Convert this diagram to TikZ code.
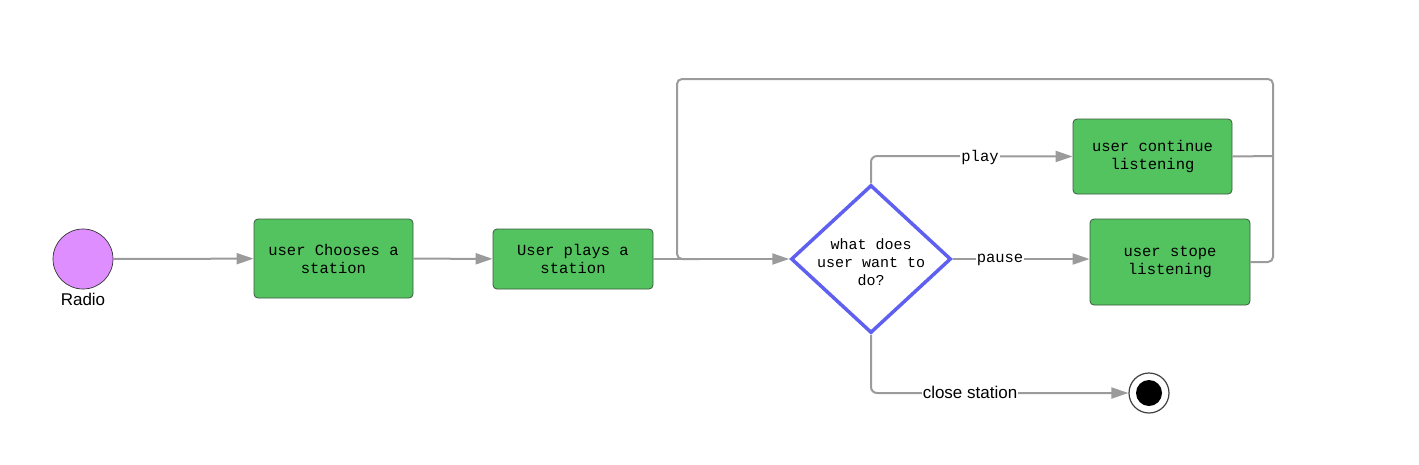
\documentclass[tikz,border=0pt]{standalone}
\usepackage{fontspec}
\setmainfont{Liberation Sans}
\newfontfamily\monof{Liberation Mono}
\usetikzlibrary{arrows.meta,shapes.geometric}
\definecolor{boxgreen}{RGB}{83,195,95}
\definecolor{boxedge}{RGB}{60,90,62}
\definecolor{conngray}{RGB}{155,155,155}
\definecolor{decblue}{RGB}{96,96,240}
\definecolor{startpink}{RGB}{222,142,255}
\tikzset{
  stepbox/.style={draw=boxedge, line width=0.8pt, fill=boxgreen, rounded corners=4pt, inner sep=0pt, align=center, font=\monof\fontsize{15.5}{18}\selectfont},
  conn/.style={draw=conngray, line width=2pt, -{Triangle[length=17pt,width=11pt]}},
  plainconn/.style={draw=conngray, line width=2pt},
  monolabel/.style={fill=white, inner sep=1pt, font=\monof\fontsize{15.5}{18}\selectfont},
  sanslabel/.style={fill=white, inner sep=1pt, font=\fontsize{17}{20}\selectfont},
}
\begin{document}
\begin{tikzpicture}[x=1pt,y=-1pt]
\useasboundingbox (0,0) rectangle (1419,464);
% nodes
\node[circle, draw=black!80, line width=0.7pt, fill=startpink, minimum size=60pt, inner sep=0pt] (radio) at (83,259) {};
\node[font=\fontsize{17}{20}\selectfont] (radiolbl) at (83,299) {Radio};
\node[stepbox, minimum width=159pt, minimum height=79pt] (b1) at (333.5,258.5) {user Chooses a\\station};
\node[stepbox, minimum width=160pt, minimum height=60pt] (b2) at (573,259) {User plays a\\station};
\node[diamond, draw=decblue, line width=3.5pt, fill=white, minimum width=160pt, minimum height=148pt, inner sep=0pt] (d) at (871,259) {};
\node[align=center, font=\monof\fontsize{15}{18}\selectfont] (dtext) at (871,262) {what does\\user want to\\do?};
\node[stepbox, minimum width=159pt, minimum height=75pt] (b3) at (1152.5,156.5) {user continue\\listening};
\node[stepbox, minimum width=160pt, minimum height=86pt] (b4) at (1170,262) {user stope\\listening};
\node[circle, draw=black!75, line width=1.2pt, fill=white, minimum size=40pt, inner sep=0pt] (endo) at (1149,393) {};
\node[circle, fill=black, minimum size=26pt, inner sep=0pt] (endi) at (endo) {};
% coordinates
\coordinate (loopright) at (1273,262);
\coordinate (loopjoin) at (677,259);
% connectors
\draw[conn] (radio) -- (b1);
\draw[conn] (b1) -- (b2);
\draw[conn] (b2.east) -- (d.west);
\draw[plainconn, rounded corners=5pt] (b4.east) -- (loopright) -- (1273,79) -- (677,79) -- (loopjoin) -- (700,259);
\draw[plainconn, rounded corners=5pt] (b3.east) -- (1273,156);
\draw[conn, rounded corners=6pt] (d.north) -- (871,156) -- (b3.west);
\node[monolabel] (playlbl) at (980,157) {play};
\draw[conn] (d.east) -- (b4.west |- d.east);
\node[monolabel] (pauselbl) at (1000,260) {pause};
\draw[conn, rounded corners=6pt] (d.south) -- (871,393) -- (endo.west);
\node[sanslabel] (closelbl) at (970,392) {close station};
\end{tikzpicture}
\end{document}
